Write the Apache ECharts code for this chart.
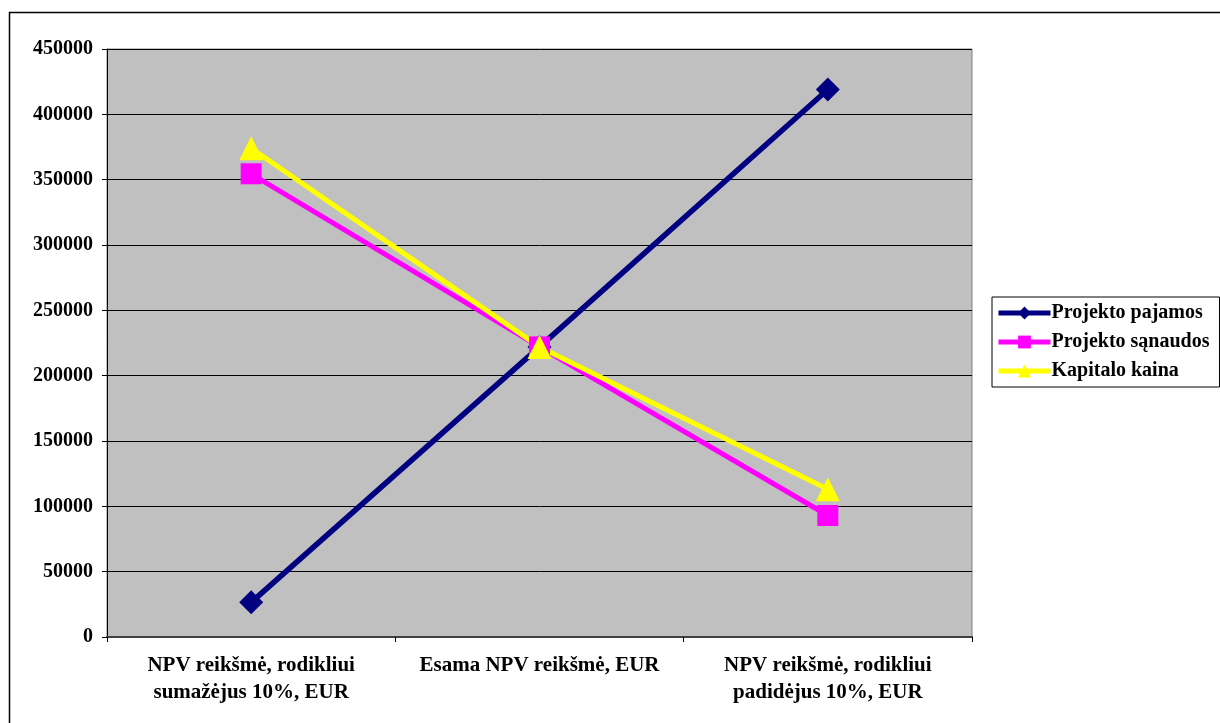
<!DOCTYPE html>
<html>
<head>
<meta charset="utf-8">
<script src="https://cdn.jsdelivr.net/npm/echarts@6/dist/echarts.min.js"></script>
<style>
  html, body { margin: 0; padding: 0; background: #ffffff; }
  #chart { width: 1220px; height: 723px; }
</style>
</head>
<body>
<div id="chart"></div>
<script>
// NPV sensitivity: value at -10%, current, +10% of each factor
const categories = [
  'NPV reikšmė, rodikliui\nsumažėjus 10%, EUR',
  'Esama NPV reikšmė, EUR',
  'NPV reikšmė, rodikliui\npadidėjus 10%, EUR'
];
const seriesNames = ['Projekto pajamos', 'Projekto sąnaudos', 'Kapitalo kaina'];
const pajamos = [26500, 222000, 419000];
const sanaudos = [354500, 222000, 93000];
const kapitalas = [374000, 222000, 113000];
const yTicks = { min: 0, max: 450000, step: 50000 };

const serif = "'Times New Roman', 'Liberation Serif', serif";

const chart = echarts.init(document.getElementById('chart'), null, { renderer: 'canvas' });

function lineSeries(name, data, color, symbol, size, width) {
  return {
    name: name,
    type: 'line',
    data: data,
    symbol: symbol,
    symbolSize: size,
    showSymbol: true,
    animation: false,
    lineStyle: { color: color, width: width },
    itemStyle: { color: color, borderWidth: 0 },
    emphasis: { disabled: true }
  };
}

chart.setOption({
  animation: false,
  backgroundColor: '#ffffff',
  graphic: [{
    type: 'rect',
    shape: { x: 9.5, y: 12.5, width: 1240, height: 740 },
    style: { fill: 'none', stroke: '#000000', lineWidth: 1.5 },
    silent: true,
    z: -1
  }],
  grid: {
    left: 107, right: 248, top: 49, bottom: 86,
    show: true,
    backgroundColor: '#c0c0c0',
    borderColor: '#808080',
    borderWidth: 1
  },
  legend: {
    orient: 'vertical',
    left: 992,
    top: 297,
    padding: [6, 10, 6, 4],
    itemGap: 9,
    itemWidth: 52,
    itemHeight: 16,
    borderColor: '#000000',
    borderWidth: 1,
    backgroundColor: '#ffffff',
    lineStyle: { width: 5 },
    textStyle: { fontFamily: serif, fontWeight: 'bold', fontSize: 20, color: '#000000', padding: [0, 0, 0, -4] },
    data: seriesNames
  },
  xAxis: {
    type: 'category',
    data: categories,
    boundaryGap: true,
    axisLine: { show: true, lineStyle: { color: '#404040', width: 2 } },
    axisTick: { show: true, length: 5, lineStyle: { color: '#000000' } },
    axisLabel: {
      margin: 15,
      fontFamily: serif,
      fontWeight: 'bold',
      fontSize: 21,
      color: '#000000',
      lineHeight: 27,
      interval: 0
    },
    splitLine: { show: false }
  },
  yAxis: {
    type: 'value',
    min: yTicks.min,
    max: yTicks.max,
    interval: yTicks.step,
    axisLine: { show: true, lineStyle: { color: '#000000', width: 1 } },
    axisTick: { show: true, length: 5, lineStyle: { color: '#000000' } },
    axisLabel: {
      margin: 14,
      fontFamily: serif,
      fontWeight: 'bold',
      fontSize: 20,
      color: '#000000',
      formatter: function (v) { return String(v); }
    },
    splitLine: { show: true, lineStyle: { color: '#000000', width: 1 } }
  },
  series: [
    lineSeries(seriesNames[0], pajamos, '#000080', 'diamond', 24, 5.5),
    lineSeries(seriesNames[1], sanaudos, '#ff00ff', 'rect', 21, 5),
    lineSeries(seriesNames[2], kapitalas, '#ffff00', 'triangle', 24, 5)
  ]
});
</script>
</body>
</html>
